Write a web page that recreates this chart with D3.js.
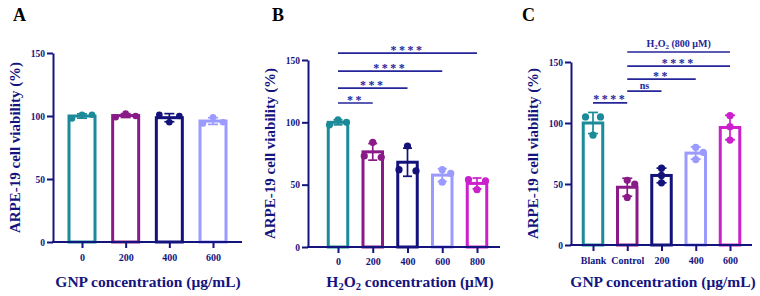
<!DOCTYPE html>
<html>
<head>
<meta charset="utf-8">
<script src="https://cdn.jsdelivr.net/npm/d3@7"></script>
<style>
  body { margin: 0; background: #fff; }
  svg text { font-family: "Liberation Serif", "Times New Roman", serif; font-weight: bold; }
</style>
</head>
<body>
<div id="chart"></div>
<script>
// ---- data ----
const catsA = ["0", "200", "400", "600"];
const pointsA = [[101, 101, 98], [102, 100, 99], [101, 100, 95], [99, 95, 94]];

const catsB = ["0", "200", "400", "600", "800"];
const pointsB = [[102, 100, 98], [84, 73, 72], [81, 62, 61], [62, 59, 52], [54, 53, 46]];
// comparisons vs "0": [from, to, label, height (%)]
const sigB = [
  ["0", "200", "**", 115.5],
  ["0", "400", "***", 127.5],
  ["0", "600", "****", 141],
  ["0", "800", "****", 155.5],
];

const catsC = ["Blank", "Control", "200", "400", "600"];
const pointsC = [[105, 105, 90], [53, 50, 39], [63, 57, 51], [80, 76, 70], [106, 97, 86]];
const sigC = [
  ["Blank", "Control", "****", 116.5],
  ["Control", "200", "ns", 126.2],
  ["Control", "400", "**", 136],
  ["Control", "600", "****", 146.7],
];
const h2o2Span = ["Control", "600", 158.2];

const yTicks = [0, 50, 100, 150];

// ---- style ----
const palette = ["#1b8a99", "#8a1a88", "#12127a", "#9a9aff", "#cc20cc"];
const navy = "#14147e";
const sigColor = "#25259a";

const W = 760, H = 296;
const svg = d3.select("#chart").append("svg").attr("width", W).attr("height", H);

function mean(a) { return d3.mean(a); }
function sd(a) { return d3.deviation(a) || 0; }

// GraphPad-like scatter spread: greedy placement, near-equal pairs spread evenly
function swarm(vals, y, step, r) {
  const order = vals.map((v, i) => i).sort((a, b) => vals[b] - vals[a]);
  const pos = [];
  const free = (o, py, skip) => pos.every(p => p === skip || Math.abs(p.x - o) >= 2 * r || Math.abs(p.y - py) > 2 * r);
  order.forEach(i => {
    const py = y(vals[i]);
    for (const o of [0, step, -step, 2 * step, -2 * step]) {
      if (free(o, py)) { pos.push({ v: vals[i], x: o, y: py }); break; }
    }
  });
  pos.forEach(a => {
    if (a.x !== 0) return;
    const b = pos.find(p => p !== a && p.x === step && Math.abs(p.y - a.y) < 2);
    if (b && free(-step, a.y, a)) a.x = -step;
  });
  return pos;
}

function panel(cfg) {
  const { cats, points, colors } = cfg;
  const g = svg.append("g");

  const x = d3.scalePoint().domain(cats).range([cfg.first, cfg.last]);
  const y = d3.scaleLinear().domain([0, 150]).range([cfg.bottom, cfg.top]);

  // bars
  cats.forEach((c, i) => {
    const m = mean(points[i]);
    g.append("rect")
      .attr("x", x(c) - cfg.barW / 2)
      .attr("y", y(m))
      .attr("width", cfg.barW)
      .attr("height", y(0) - y(m))
      .attr("fill", "#fff")
      .attr("stroke", colors[i])
      .attr("stroke-width", 3);
  });

  // error bars (mean ± SD)
  cats.forEach((c, i) => {
    const m = mean(points[i]), s = sd(points[i]);
    const cx = x(c), cw = cfg.capW / 2;
    const eg = g.append("g").attr("stroke", colors[i]).attr("stroke-width", 1.7);
    eg.append("line").attr("x1", cx).attr("x2", cx).attr("y1", y(m - s)).attr("y2", y(m + s));
    eg.append("line").attr("x1", cx - cw).attr("x2", cx + cw).attr("y1", y(m + s)).attr("y2", y(m + s));
    eg.append("line").attr("x1", cx - cw).attr("x2", cx + cw).attr("y1", y(m - s)).attr("y2", y(m - s));
  });

  // points
  cats.forEach((c, i) => {
    swarm(points[i], y, cfg.step, cfg.r).forEach(p => {
      g.append("circle")
        .attr("cx", x(c) + p.x)
        .attr("cy", p.y)
        .attr("r", cfg.r)
        .attr("fill", colors[i]);
    });
  });

  // axes
  const yAxis = g.append("g")
    .attr("transform", `translate(${cfg.left},0)`)
    .call(d3.axisLeft(y).tickValues(yTicks).tickSize(6).tickSizeOuter(0).tickPadding(2));
  yAxis.select(".domain").attr("stroke", navy).attr("stroke-width", 2);
  yAxis.selectAll(".tick line").attr("stroke", navy).attr("stroke-width", 2);
  yAxis.selectAll(".tick text")
    .attr("fill", navy).style("font-size", "9.5px")
    .style("font-family", '"Liberation Serif", serif').style("font-weight", "bold");

  g.append("line")
    .attr("x1", cfg.left - 1).attr("x2", cfg.right)
    .attr("y1", y(0)).attr("y2", y(0))
    .attr("stroke", navy).attr("stroke-width", 2);

  const xAxis = g.append("g")
    .attr("transform", `translate(0,${y(0)})`)
    .call(d3.axisBottom(x).tickSize(6).tickPadding(cfg.tickPad));
  xAxis.select(".domain").remove();
  xAxis.selectAll(".tick line").attr("stroke", navy).attr("stroke-width", 2);
  xAxis.selectAll(".tick text")
    .attr("fill", navy).style("font-size", "10px")
    .style("font-family", '"Liberation Serif", serif').style("font-weight", "bold");

  // titles
  g.append("text")
    .attr("transform", `translate(${cfg.left - 38},${(cfg.top + cfg.bottom) / 2}) rotate(-90)`)
    .attr("text-anchor", "middle")
    .attr("dy", "0.35em")
    .attr("fill", navy)
    .style("font-size", "15px")
    .text("ARPE-19 cell viability (%)");

  const xt = g.append("text")
    .attr("x", cfg.titleX).attr("y", 287)
    .attr("text-anchor", "middle")
    .attr("fill", navy)
    .style("font-size", "15.5px");
  let lastSub = false;
  cfg.xTitle.forEach(([t, sub]) => {
    if (sub) xt.append("tspan").attr("dy", 3).style("font-size", "10.5px").text(t);
    else xt.append("tspan").attr("dy", lastSub ? -3 : 0).text(t);
    lastSub = !!sub;
  });

  g.append("text")
    .attr("x", cfg.letterX).attr("y", 21)
    .attr("fill", "#000")
    .style("font-size", "18px")
    .text(cfg.letter);

  return { g, x, y };
}

function sigLine(p, from, to, label, h) {
  const { g, x, y } = p;
  g.append("line")
    .attr("x1", x(from)).attr("x2", x(to))
    .attr("y1", y(h)).attr("y2", y(h))
    .attr("stroke", sigColor).attr("stroke-width", 1.7);
  const isStar = label.includes("*");
  g.append("text")
    .attr("x", (x(from) + x(to)) / 2)
    .attr("y", y(h) + (isStar ? 0.5 : -2.5))
    .attr("text-anchor", "middle")
    .attr("fill", sigColor)
    .style("font-size", isStar ? "12px" : "10px")
    .style("letter-spacing", isStar ? "2.5px" : "0px")
    .text(label);
}

// ---- panel A ----
panel({
  cats: catsA, points: pointsA, colors: palette.slice(0, 4),
  left: 53, right: 242, top: 53, bottom: 242, first: 82, last: 213,
  barW: 26, capW: 10, step: 10, r: 3.3, tickPad: 6,
  titleX: 148, xTitle: [["GNP concentration (μg/mL)"]],
  letter: "A", letterX: 13,
});

// ---- panel B ----
const pB = panel({
  cats: catsB, points: pointsB, colors: palette,
  left: 308, right: 500, top: 60, bottom: 247, first: 338, last: 477,
  barW: 19.5, capW: 9, step: 8.5, r: 3.6, tickPad: 5,
  titleX: 410, xTitle: [["H"], ["2", true], ["O"], ["2", true], [" concentration (μM)"]],
  letter: "B", letterX: 272,
});
sigB.forEach(([a, b, l, h]) => sigLine(pB, a, b, l, h));

// ---- panel C ----
const pC = panel({
  cats: catsC, points: pointsC, colors: palette,
  left: 571, right: 752, top: 62, bottom: 245, first: 593, last: 730,
  barW: 19.5, capW: 10, step: 7.5, r: 3.6, tickPad: 6,
  titleX: 663, xTitle: [["GNP concentration (μg/mL)"]],
  letter: "C", letterX: 522,
});
sigC.forEach(([a, b, l, h]) => sigLine(pC, a, b, l, h));

// H2O2 (800 μM) bracket
{
  const { g, x, y } = pC;
  const [a, b, h] = h2o2Span;
  g.append("line")
    .attr("x1", x(a)).attr("x2", x(b))
    .attr("y1", y(h)).attr("y2", y(h))
    .attr("stroke", sigColor).attr("stroke-width", 1.7);
  const t = g.append("text")
    .attr("x", (x(a) + x(b)) / 2).attr("y", y(h) - 4.5)
    .attr("text-anchor", "middle")
    .attr("fill", sigColor)
    .style("font-size", "10px");
  t.append("tspan").text("H");
  t.append("tspan").attr("dy", 2).style("font-size", "7px").text("2");
  t.append("tspan").attr("dy", -2).text("O");
  t.append("tspan").attr("dy", 2).style("font-size", "7px").text("2");
  t.append("tspan").attr("dy", -2).text(" (800 μM)");
}
</script>
</body>
</html>
